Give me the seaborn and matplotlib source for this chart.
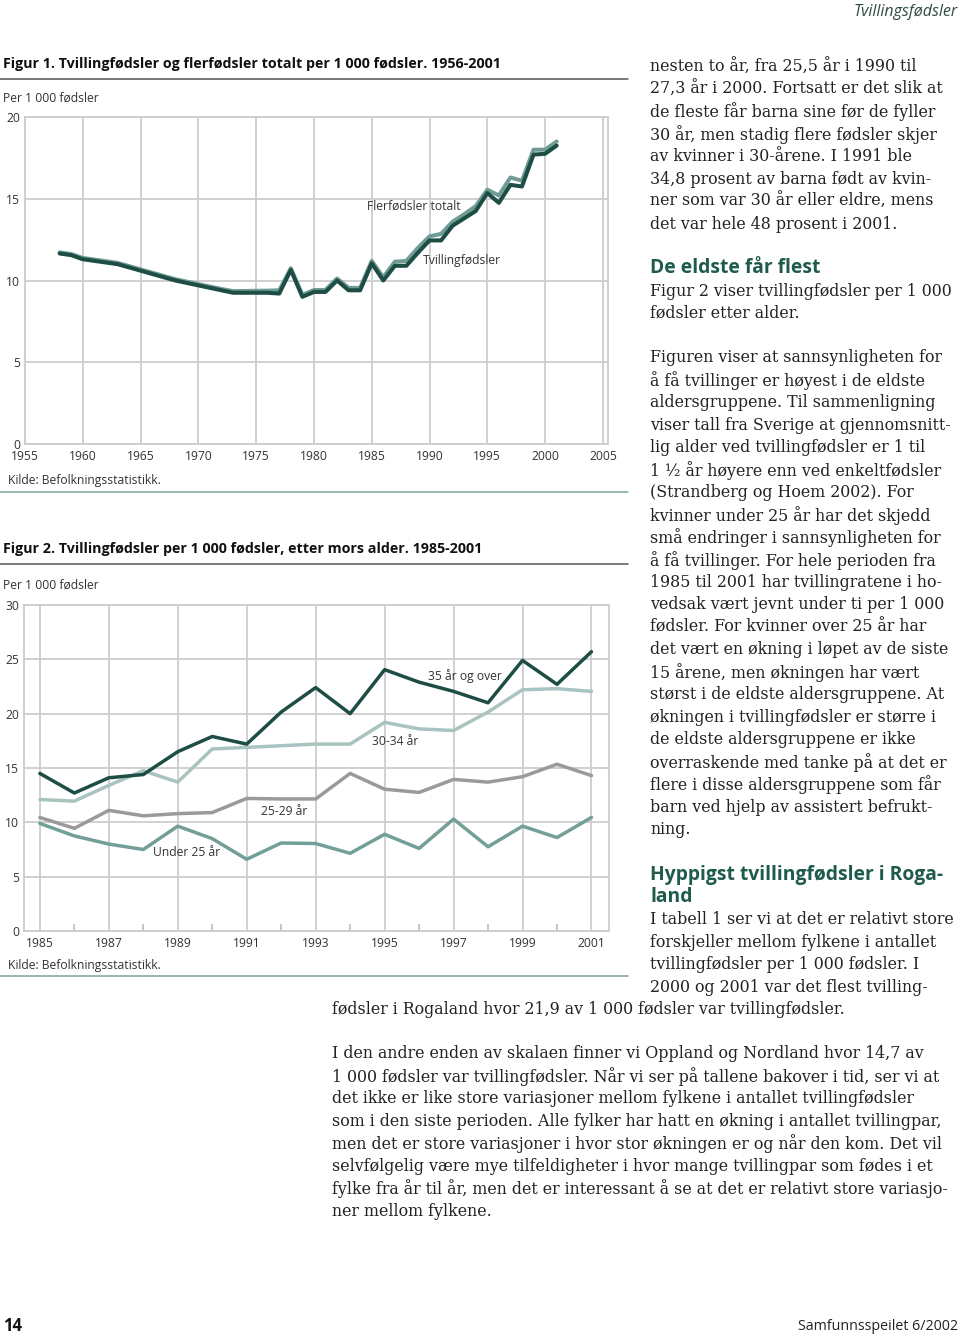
import matplotlib
matplotlib.use("Agg")
import matplotlib.pyplot as plt
import pandas as pd
import seaborn as sns
from matplotlib.lines import Line2D

W, H = 960, 1337

# ---- Figur 1: per 1 000 fødsler, 1958-2001 ----
years1 = list(range(1958, 2002))
tvilling = [11.65, 11.55, 11.30, 11.20, 11.10, 11.00, 10.80, 10.60, 10.40, 10.20,
            10.00, 9.85, 9.70, 9.55, 9.40, 9.25, 9.25, 9.25, 9.25, 9.20,
            10.65, 9.00, 9.30, 9.30, 10.00, 9.40, 9.40, 11.05, 10.00, 10.90,
            10.90, 11.70, 12.45, 12.45, 13.35, 13.80, 14.25, 15.35, 14.75, 15.85,
            15.75, 17.70, 17.75, 18.25]
flerfodsler = [11.72, 11.62, 11.38, 11.28, 11.18, 11.08, 10.88, 10.68, 10.48, 10.28,
               10.08, 9.93, 9.78, 9.63, 9.48, 9.35, 9.36, 9.37, 9.38, 9.40,
               10.75, 9.12, 9.42, 9.42, 10.12, 9.55, 9.55, 11.20, 10.20, 11.15,
               11.20, 12.00, 12.70, 12.85, 13.60, 14.05, 14.55, 15.55, 15.20, 16.30,
               16.10, 18.00, 18.00, 18.50]
series1 = ["Flerfødsler totalt", "Tvillingfødsler"]

# ---- Figur 2: etter mors alder, 1985-2001 ----
years2 = list(range(1985, 2002))
over35 = [14.5, 12.7, 14.1, 14.4, 16.5, 17.9, 17.2, 20.15, 22.4, 20.0,
          24.05, 22.9, 22.05, 21.0, 24.9, 22.7, 25.7]
age30_34 = [12.1, 11.95, 13.4, 14.75, 13.7, 16.75, 16.9, 17.05, 17.2, 17.2,
            19.2, 18.6, 18.45, 20.15, 22.2, 22.3, 22.05]
age25_29 = [10.45, 9.45, 11.1, 10.6, 10.8, 10.9, 12.2, 12.15, 12.15, 14.5,
            13.05, 12.75, 13.95, 13.7, 14.2, 15.35, 14.3]
under25 = [9.9, 8.75, 8.0, 7.5, 9.65, 8.5, 6.6, 8.1, 8.05, 7.15,
           8.9, 7.6, 10.3, 7.75, 9.65, 8.6, 10.45]
series2 = ["Under 25 år", "25-29 år", "30-34 år", "35 år og over"]

df1 = pd.DataFrame({
    "År": years1 * 2,
    "Verdi": flerfodsler + tvilling,
    "Serie": [series1[0]] * len(years1) + [series1[1]] * len(years1),
})
df2 = pd.DataFrame({
    "År": years2 * 4,
    "Verdi": under25 + age25_29 + age30_34 + over35,
    "Serie": sum([[s] * len(years2) for s in series2], []),
})

sns.set_theme(style="white")
SANS = ['Open Sans', 'DejaVu Sans']
SERIF = ['DejaVu Serif']
plt.rcParams['font.family'] = SANS

DARK = "#1d4d45"
GRID = "#cdcdcd"
GREEN_HEAD = "#1f5b4d"
TEAL_RULE = "#7ea39c"
LAB = 8.7

fig = plt.figure(figsize=(W / 100, H / 100), dpi=100)


def fx(x):
    return x / W


def fy(y):
    return 1 - y / H


def add_ax(x0, y0, x1, y1):
    return fig.add_axes([fx(x0), fy(y1), (x1 - x0) / W, (y1 - y0) / H])


def txt(x, y, s, **kw):
    kw.setdefault("va", "center")
    fig.text(fx(x), fy(y), s, **kw)


def rule(y, color, lw=1.1, x0=0, x1=628):
    fig.add_artist(Line2D([fx(x0), fx(x1)], [fy(y), fy(y)], color=color,
                          lw=lw, transform=fig.transFigure))


def style_axes(ax):
    ax.grid(True, color=GRID, lw=1.3)
    ax.set_axisbelow(True)
    for sp in ax.spines.values():
        sp.set_color(GRID)
        sp.set_linewidth(1.3)
    ax.set_xlabel("")
    ax.set_ylabel("")
    ax.tick_params(axis="both", length=0, labelsize=LAB, colors="#333333")
    ax.tick_params(axis="x", pad=4.5)
    ax.tick_params(axis="y", pad=3.5)


# ---------------- Figur 1 ----------------
ax1 = add_ax(25, 117, 607.5, 444)
sns.lineplot(data=df1, x="År", y="Verdi", hue="Serie", hue_order=series1,
             palette=["#6f9c95", DARK], linewidth=2.9, legend=False, ax=ax1)
ax1.set_xlim(1955, 2005.4)
ax1.set_ylim(0, 20)
ax1.set_xticks(range(1955, 2006, 5))
ax1.set_yticks(range(0, 21, 5))
style_axes(ax1)
ax1.text(1988.6, 14.55, "Flerfødsler totalt", ha="center", va="center",
         fontsize=LAB, color="#333333")
ax1.text(1992.8, 11.25, "Tvillingfødsler", ha="center", va="center",
         fontsize=LAB, color="#333333")

txt(3, 64, "Figur 1. Tvillingfødsler og flerfødsler totalt per 1 000 fødsler. 1956-2001",
    fontsize=10.3, fontweight="bold", color="#111111")
rule(79, "#555555")
txt(3, 98, "Per 1 000 fødsler", fontsize=LAB, color="#333333")
txt(8, 481, "Kilde: Befolkningsstatistikk.", fontsize=LAB, color="#333333")
rule(492, TEAL_RULE)

# ---------------- Figur 2 ----------------
ax2 = add_ax(24, 605, 608.7, 931)
sns.lineplot(data=df2, x="År", y="Verdi", hue="Serie", hue_order=series2,
             palette=["#739f99", "#9b999d", "#a9c4c0", DARK], linewidth=2.5,
             legend=False, ax=ax2)
ax2.set_xlim(1984.54, 2001.5)
ax2.set_ylim(0, 30)
ax2.set_xticks(range(1985, 2002, 2))
ax2.set_xticks(range(1986, 2001, 2), minor=True)
ax2.set_yticks(range(0, 31, 5))
style_axes(ax2)
ax2.tick_params(axis="x", which="minor", direction="in", length=5, width=1.2,
                color="#bdbdbd", bottom=True)
ax2.text(1997.33, 23.45, "35 år og over", ha="center", va="center",
         fontsize=LAB, color="#333333")
ax2.text(1995.3, 17.4, "30-34 år", ha="center", va="center",
         fontsize=LAB, color="#333333")
ax2.text(1992.1, 11.0, "25-29 år", ha="center", va="center",
         fontsize=LAB, color="#333333")
ax2.text(1989.26, 7.2, "Under 25 år", ha="center", va="center",
         fontsize=LAB, color="#333333")

txt(3, 549, "Figur 2. Tvillingfødsler per 1 000 fødsler, etter mors alder. 1985-2001",
    fontsize=10.3, fontweight="bold", color="#111111")
rule(564, "#555555")
txt(3, 585, "Per 1 000 fødsler", fontsize=LAB, color="#333333")
txt(8, 965, "Kilde: Befolkningsstatistikk.", fontsize=LAB, color="#333333")
rule(976, TEAL_RULE)

# ---------------- Body text ----------------
LS = 22.45
BODY = dict(fontsize=11.4, color="#222222", family=SERIF)
HEAD = dict(fontsize=13.9, fontweight="bold", color=GREEN_HEAD, family=SANS)


def para(x, y0, lines, style):
    for i, s in enumerate(lines):
        txt(x, y0 + i * LS, s, **style)


para(650, 67, [
    "nesten to år, fra 25,5 år i 1990 til",
    "27,3 år i 2000. Fortsatt er det slik at",
    "de fleste får barna sine før de fyller",
    "30 år, men stadig flere fødsler skjer",
    "av kvinner i 30-årene. I 1991 ble",
    "34,8 prosent av barna født av kvin-",
    "ner som var 30 år eller eldre, mens",
    "det var hele 48 prosent i 2001.",
], BODY)
para(650, 268, ["De eldste får flest"], HEAD)
para(650, 291, [
    "Figur 2 viser tvillingfødsler per 1 000",
    "fødsler etter alder.",
], BODY)
para(650, 358, [
    "Figuren viser at sannsynligheten for",
    "å få tvillinger er høyest i de eldste",
    "aldersgruppene. Til sammenligning",
    "viser tall fra Sverige at gjennomsnitt-",
    "lig alder ved tvillingfødsler er 1 til",
    "1 ½ år høyere enn ved enkeltfødsler",
    "(Strandberg og Hoem 2002). For",
    "kvinner under 25 år har det skjedd",
    "små endringer i sannsynligheten for",
    "å få tvillinger. For hele perioden fra",
    "1985 til 2001 har tvillingratene i ho-",
    "vedsak vært jevnt under ti per 1 000",
    "fødsler. For kvinner over 25 år har",
    "det vært en økning i løpet av de siste",
    "15 årene, men økningen har vært",
    "størst i de eldste aldersgruppene. At",
    "økningen i tvillingfødsler er større i",
    "de eldste aldersgruppene er ikke",
    "overraskende med tanke på at det er",
    "flere i disse aldersgruppene som får",
    "barn ved hjelp av assistert befrukt-",
    "ning.",
], BODY)
para(650, 875, ["Hyppigst tvillingfødsler i Roga-", "land"], HEAD)
para(650, 920, [
    "I tabell 1 ser vi at det er relativt store",
    "forskjeller mellom fylkene i antallet",
    "tvillingfødsler per 1 000 fødsler. I",
    "2000 og 2001 var det flest tvilling-",
], BODY)
para(332, 1010, [
    "fødsler i Rogaland hvor 21,9 av 1 000 fødsler var tvillingfødsler.",
], BODY)
para(332, 1054, [
    "I den andre enden av skalaen finner vi Oppland og Nordland hvor 14,7 av",
    "1 000 fødsler var tvillingfødsler. Når vi ser på tallene bakover i tid, ser vi at",
    "det ikke er like store variasjoner mellom fylkene i antallet tvillingfødsler",
    "som i den siste perioden. Alle fylker har hatt en økning i antallet tvillingpar,",
    "men det er store variasjoner i hvor stor økningen er og når den kom. Det vil",
    "selvfølgelig være mye tilfeldigheter i hvor mange tvillingpar som fødes i et",
    "fylke fra år til år, men det er interessant å se at det er relativt store variasjo-",
    "ner mellom fylkene.",
], BODY)

# ---------------- Page header / footer ----------------
txt(958, 12, "Tvillingsfødsler", ha="right", fontsize=11.5, style="italic",
    color="#2f4a45")
txt(3, 1326, "14", fontsize=12, fontweight="bold", color="#111111")
txt(958, 1326, "Samfunnsspeilet 6/2002", ha="right", fontsize=10.3,
    color="#222222")

fig.savefig("out.png", dpi=100)
